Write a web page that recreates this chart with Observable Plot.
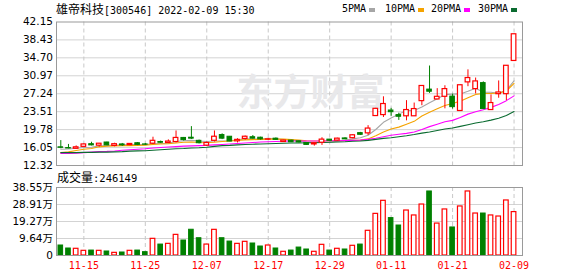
<!DOCTYPE html>
<html>
<head>
<meta charset="utf-8">
<script src="https://cdn.jsdelivr.net/npm/d3@7"></script>
<script src="https://cdn.jsdelivr.net/npm/@observablehq/plot@0.6"></script>
<style>
  html, body { margin: 0; padding: 0; background: #fff; }
  #wrap { position: relative; width: 578px; height: 276px; overflow: hidden; background: #fff; }
  #wrap svg { overflow: visible; }
  .abs { position: absolute; white-space: nowrap; }
  .cjk { font-family: "Noto Sans CJK SC", sans-serif; font-size: 12px; }
  .mono { font-family: "DejaVu Sans Mono", monospace; font-size: 10px; }
  .sq { position: absolute; width: 6px; height: 4px; }
</style>
</head>
<body>
<div id="wrap">
  <div class="abs" style="left:56px; top:1px; line-height:16px; color:#000;"><span class="cjk">雄帝科技</span><span class="mono">[300546] 2022-02-09 15:30</span></div>
  <div id="legend"></div>
  <div id="price" class="abs" style="left:0; top:0;"></div>
  <div id="vol" class="abs" style="left:0; top:170px;"></div>
  <div class="abs" style="left:57px; top:169px; line-height:16px; color:#000;"><span class="cjk">成交量</span><span class="mono" style="font-size:10.5px">:246149</span></div>
</div>
<script>
// ---- data ----
const stockName = "雄帝科技";
const dates = ["11-10","11-11","11-12","11-15","11-16","11-17","11-18","11-19","11-22","11-23",
  "11-24","11-25","11-26","11-29","11-30","12-01","12-02","12-03","12-06","12-07",
  "12-08","12-09","12-10","12-13","12-14","12-15","12-16","12-17","12-20","12-21",
  "12-22","12-23","12-24","12-27","12-28","12-29","12-30","12-31","01-04","01-05",
  "01-06","01-07","01-10","01-11","01-12","01-13","01-14","01-17","01-18","01-19",
  "01-20","01-21","01-24","01-25","01-26","01-27","01-28","02-07","02-08","02-09"];
const open = [16.1,15.95,15.8,16.2,16.75,16.45,17.1,16.4,16.7,16.55,
  16.95,16.7,16.85,17.2,17.0,17.2,18.05,18.1,17.45,16.45,
  17.45,18.65,18.3,17.35,17.85,18.2,18.1,17.7,17.9,17.2,
  17.5,17.35,17.0,16.7,17.05,17.7,17.5,17.95,18.0,19.05,
  19.0,22.6,22.8,23.75,22.8,22.55,22.55,25.7,28.1,26.05,
  26.6,26.65,23.65,29.6,28.2,29.45,23.85,27.15,27.15,34.05];
const high = [17.5,16.7,16.4,16.8,17.15,16.9,17.15,16.95,16.9,16.85,
  17.1,16.9,18.2,17.4,17.65,19.5,18.15,20.4,17.6,17.2,
  19.5,18.9,18.35,17.9,18.45,18.55,18.2,17.95,18.05,17.55,
  17.55,17.4,17.05,17.1,18.1,17.75,18.0,18.1,18.7,19.2,
  20.6,24.2,26.6,24.2,23.2,25.8,25.3,28.9,33.0,28.3,
  28.9,27.15,29.05,32.2,30.5,29.7,27.0,29.9,33.1,39.6];
const low = [15.8,15.8,15.75,16.1,16.4,16.15,16.45,16.2,16.3,16.45,
  16.45,16.5,16.7,16.9,16.9,17.0,17.4,17.75,16.8,16.25,
  17.2,17.7,17.25,17.0,17.6,17.8,17.6,17.5,17.55,17.1,
  17.1,17.0,16.5,16.35,16.5,17.4,17.4,17.7,17.9,18.55,
  18.55,22.5,22.3,22.55,21.7,21.6,22.5,24.75,27.3,26.0,
  24.1,24.05,23.6,28.7,27.2,24.0,23.8,26.3,25.8,34.0];
const close = [16.0,15.85,16.1,16.7,16.5,16.85,16.5,16.75,16.5,16.8,
  16.6,16.65,17.45,17.05,17.3,18.05,17.6,17.9,16.95,17.0,
  18.3,17.9,17.3,17.65,18.3,17.9,17.75,17.75,17.65,17.5,
  17.15,17.1,16.6,16.95,17.7,17.45,17.9,17.75,18.6,18.7,
  20.0,24.1,25.1,23.4,22.45,23.85,24.05,28.85,27.65,26.6,
  28.2,24.45,29.0,30.5,29.8,24.05,25.3,27.5,33.05,39.6];
// volume in 万 (10k lots)
const volume = [5.67,3.97,3.8,2.65,2.8,2.65,2.27,1.5,1.7,2.65,
  2.8,1.9,9.45,6.2,6.6,11.7,8.5,14.6,9.8,6.2,
  14.55,9.8,7.9,6.6,7.75,6.8,5.1,5.67,3.97,2.1,
  2.8,4.5,3.4,2.1,6.05,2.8,3.8,3.4,5.5,6.2,
  14.0,23.6,31.0,21.2,17.0,25.5,22.7,28.9,36.3,18.1,
  26.1,15.9,27.8,36.3,23.8,23.8,22.7,22.1,31.2,24.61];
const ma5 = [15.7,15.75,15.9,16.05,16.1,16.4,16.45,16.55,16.6,16.7,
  16.7,16.65,16.85,16.9,16.95,17.3,17.45,17.55,17.4,17.3,
  17.4,17.4,17.45,17.65,17.85,17.8,17.8,17.95,17.85,17.7,
  17.55,17.45,17.2,17.1,17.1,17.15,17.35,17.55,17.85,18.1,
  18.6,19.8,21.3,22.2,23.0,23.75,23.75,24.5,25.35,26.2,
  27.05,27.15,27.2,27.75,28.4,27.55,27.55,27.35,27.95,29.9];
const ma10 = [15.0,15.15,15.43,15.7,15.84,16.2,16.35,16.4,16.45,16.45,
  16.5,16.55,16.7,16.8,16.85,17.0,17.15,17.2,17.1,17.05,
  17.15,17.3,17.4,17.55,17.65,17.7,17.75,17.8,17.8,17.8,
  17.7,17.6,17.45,17.4,17.4,17.45,17.45,17.5,17.55,17.6,
  17.85,18.5,19.3,19.9,20.3,20.9,21.5,22.6,23.4,24.1,
  24.8,25.2,25.7,26.4,27.1,27.3,27.3,27.4,27.8,29.4];
const ma20 = [14.8,14.85,14.9,15.0,15.1,15.2,15.25,15.35,15.5,15.6,
  15.7,15.8,15.95,16.05,16.15,16.25,16.35,16.4,16.45,16.5,
  16.6,16.7,16.8,16.9,17.0,17.1,17.2,17.25,17.3,17.35,
  17.4,17.4,17.4,17.4,17.4,17.45,17.45,17.5,17.55,17.6,
  17.75,18.0,18.3,18.6,18.8,19.0,19.3,19.8,20.4,20.9,
  21.4,21.7,22.3,23.0,23.5,23.9,24.4,25.0,25.8,26.8];
const ma30 = [15.0,15.0,15.0,15.05,15.05,15.1,15.1,15.15,15.2,15.3,
  15.35,15.4,15.5,15.6,15.7,15.8,15.85,15.95,16.0,16.1,
  16.3,16.45,16.5,16.6,16.7,16.75,16.8,16.85,16.9,16.95,
  17.0,17.0,17.05,17.05,17.1,17.15,17.2,17.25,17.35,17.4,
  17.55,17.75,17.95,18.1,18.3,18.5,18.75,19.05,19.3,19.6,
  19.9,20.1,20.45,20.8,21.15,21.4,21.75,22.15,22.7,23.55];
const tickDates = ["11-15","11-25","12-07","12-17","12-29","01-11","01-21","02-09"];
const priceTicks = [12.32,16.05,19.78,23.51,27.24,30.97,34.70,38.43,42.15];
const volTicks = [0,9.64,19.27,28.91,38.55];
const maNames = ["5PMA","10PMA","20PMA","30PMA"];
const maColors = ["#a6a6a6","#f5a300","#ff00ff","#0a6b30"];

// ---- build ----
const RED = "#ff0000", GREEN = "#008000";
const rows = dates.map((d, i) => ({i, date: d, o: open[i], h: high[i], l: low[i], c: close[i], v: volume[i]}));
const up = rows.filter(r => r.c >= r.o);
const down = rows.filter(r => r.c < r.o);
const tickIdx = tickDates.map(d => dates.indexOf(d));
const xDomain = [-0.56, 60.1];
const halfW = 0.3;
const maSeries = [ma5, ma10, ma20, ma30].map(arr => arr.map((v, i) => ({i, v})));
const labelFont = "DejaVu Sans, sans-serif";

// legend
const legend = document.getElementById("legend");
const legendX = [342, 385, 431, 478];
maNames.forEach((n, k) => {
  const t = document.createElement("div");
  t.className = "abs mono";
  t.style.left = legendX[k] + "px"; t.style.top = "1px"; t.style.lineHeight = "16px";
  t.textContent = n;
  legend.appendChild(t);
  const s = document.createElement("div");
  s.className = "sq";
  s.style.left = (legendX[k] + n.length * 6.02 + 3) + "px";
  s.style.top = "8px";
  s.style.background = maColors[k];
  legend.appendChild(s);
});

const price = Plot.plot({
  width: 578, height: 172,
  marginLeft: 56, marginRight: 56, marginTop: 21.5, marginBottom: 7,
  x: {type: "linear", domain: xDomain, axis: null},
  y: {domain: [priceTicks[0], priceTicks[priceTicks.length - 1]], axis: null},
  style: {background: "transparent", overflow: "visible"},
  marks: [
    Plot.ruleY(priceTicks.slice(1, -1), {stroke: "#d3d3d3", strokeWidth: 1}),
    Plot.ruleX(tickIdx, {stroke: "#c8c8c8", strokeDasharray: "4,3"}),
    Plot.text(["东方财富"], {frameAnchor: "middle", dx: 21, dy: 0, fontSize: 37, fontWeight: "bold",
      fontFamily: "Noto Sans CJK SC", fill: "#e8e8ea"}),
    ...maSeries.map((s, k) => Plot.line(s, {x: "i", y: "v", stroke: maColors[k], strokeWidth: 1.1})),
    Plot.ruleX(up, {x: "i", y1: "l", y2: "h", stroke: RED, strokeWidth: 1}),
    Plot.ruleX(down, {x: "i", y1: "l", y2: "h", stroke: GREEN, strokeWidth: 1}),
    Plot.rect(up, {x1: d => d.i - halfW, x2: d => d.i + halfW, y1: "o", y2: "c", fill: "white", stroke: RED, strokeWidth: 1.2}),
    Plot.rect(down, {x1: d => d.i - halfW, x2: d => d.i + halfW, y1: "o", y2: "c", fill: GREEN, stroke: GREEN, strokeWidth: 1}),
    Plot.frame({stroke: "#9a9a9a", strokeWidth: 1}),
    Plot.axisY(priceTicks, {label: null, tickSize: 0, tickPadding: 3.5, tickFormat: d => d.toFixed(2),
      fontSize: 10.5, fontFamily: labelFont, fill: "#000"})
  ]
});
document.getElementById("price").appendChild(price);

const vol = Plot.plot({
  width: 578, height: 106,
  marginLeft: 56, marginRight: 56, marginTop: 17, marginBottom: 21,
  x: {type: "linear", domain: xDomain, axis: null},
  y: {domain: [0, volTicks[volTicks.length - 1]], axis: null},
  style: {background: "transparent", overflow: "visible"},
  marks: [
    Plot.ruleY(volTicks.slice(1, -1), {stroke: "#d3d3d3", strokeWidth: 1}),
    Plot.ruleX(tickIdx, {stroke: "#c8c8c8", strokeDasharray: "4,3"}),
    Plot.rect(up, {x1: d => d.i - halfW, x2: d => d.i + halfW, y1: 0, y2: "v", fill: "white", stroke: RED, strokeWidth: 1.2}),
    Plot.rect(down, {x1: d => d.i - halfW, x2: d => d.i + halfW, y1: 0, y2: "v", fill: GREEN, stroke: GREEN, strokeWidth: 1}),
    Plot.frame({stroke: "#9a9a9a", strokeWidth: 1}),
    Plot.axisY(volTicks, {label: null, tickSize: 0, tickPadding: 3.5, tickFormat: d => d === 0 ? "0" : d.toFixed(2) + "万",
      fontSize: 10.5, fontFamily: "DejaVu Sans, Noto Sans CJK SC, sans-serif", fill: "#000"}),
    Plot.axisX(tickIdx, {label: null, tickSize: 0, tickPadding: 6, tickFormat: i => dates[i],
      fontSize: 10, fontFamily: "DejaVu Sans Mono, monospace", fill: RED})
  ]
});
document.getElementById("vol").appendChild(vol);
</script>
</body>
</html>
